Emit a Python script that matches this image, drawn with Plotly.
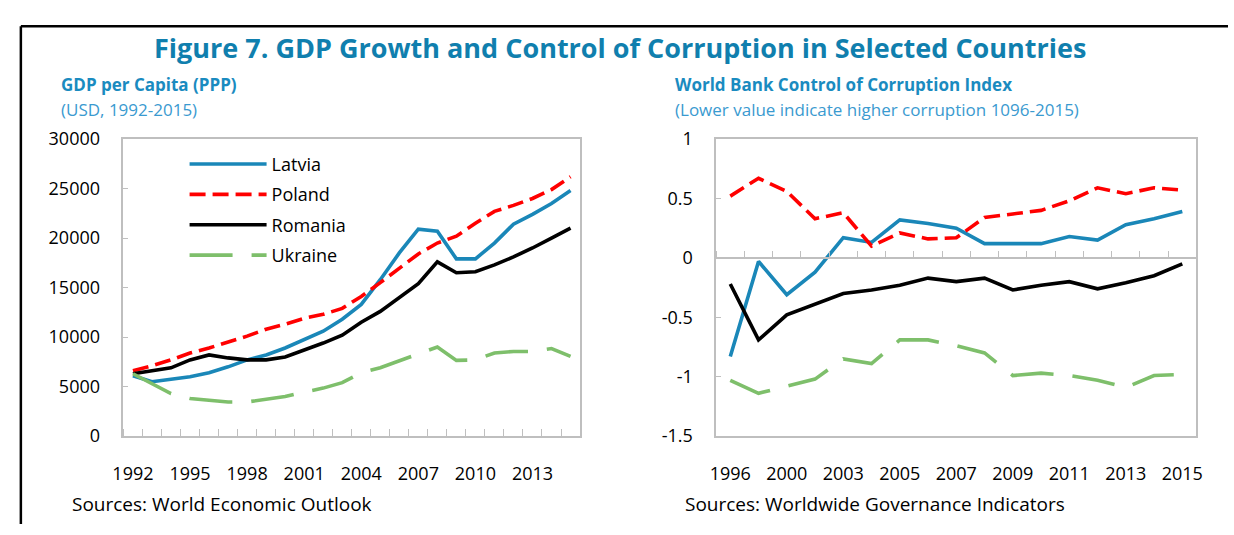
import plotly.graph_objects as go

# ---------------- data ----------------
gdp_years = list(range(1992, 2016))
gdp_latvia = [6100, 5500, 5750, 6000, 6400, 7000, 7700, 8200, 8900, 9800, 10600, 11800,
              13300, 15800, 18500, 20900, 20700, 17900, 17900, 19500, 21400, 22400, 23500, 24800]
gdp_poland = [6600, 7100, 7700, 8400, 8900, 9500, 10100, 10800, 11300, 11900, 12300, 12900,
              14100, 15500, 17000, 18400, 19500, 20200, 21500, 22700, 23300, 24000, 24900, 26200]
gdp_romania = [6300, 6600, 6900, 7700, 8200, 7900, 7700, 7700, 8000, 8700, 9400, 10200,
               11500, 12600, 14000, 15400, 17600, 16500, 16600, 17300, 18100, 19000, 20000, 21000]
gdp_ukraine = [6300, 5300, 4300, 3800, 3650, 3450, 3450, 3700, 4000, 4450, 4850, 5400,
               6400, 6900, 7600, 8250, 9000, 7650, 7700, 8400, 8550, 8550, 8850, 8050]

wgi_years = ["1996", "1998", "2000", "2002", "2003", "2004", "2005", "2006", "2007",
             "2008", "2009", "2010", "2011", "2012", "2013", "2014", "2015"]
wgi_latvia = [-0.83, -0.03, -0.31, -0.12, 0.17, 0.13, 0.32, 0.29, 0.25, 0.12, 0.12,
              0.12, 0.18, 0.15, 0.28, 0.33, 0.39]
wgi_poland = [0.52, 0.67, 0.56, 0.33, 0.38, 0.10, 0.21, 0.16, 0.17, 0.34, 0.37,
              0.40, 0.48, 0.59, 0.54, 0.59, 0.57]
wgi_romania = [-0.22, -0.69, -0.48, -0.39, -0.30, -0.27, -0.23, -0.17, -0.20, -0.17, -0.27,
               -0.23, -0.20, -0.26, -0.21, -0.15, -0.05]
wgi_ukraine = [-1.03, -1.14, -1.08, -1.02, -0.85, -0.89, -0.69, -0.69, -0.74, -0.80, -0.99,
               -0.97, -0.99, -1.03, -1.09, -0.99, -0.98]

countries = ["Latvia", "Poland", "Romania", "Ukraine"]
gdp_tick_years = [1992, 1995, 1998, 2001, 2004, 2007, 2010, 2013]
wgi_label_every = 2
gdp_yticks = [0, 5000, 10000, 15000, 20000, 25000, 30000]
wgi_yticks = [-1.5, -1.0, -0.5, 0.0, 0.5, 1.0]
wgi_yticktext = ["-1.5", "-1", "-0.5", "0", "0.5", "1"]

# ---------------- styles ----------------
W, H = 1234, 535
FONT = "Open Sans"
colors = {"Latvia": "#1A87B8", "Poland": "#FF0000", "Romania": "#000000", "Ukraine": "#7EBF6B"}
dashes = {"Latvia": "solid", "Poland": "16px,7px", "Romania": "solid", "Ukraine": "43px,19px"}
LW = 3.6
GRID = "#BFBFBF"
TITLE_BLUE = "#107FAE"
SUB_BLUE = "#1A8BC0"
SUB2_BLUE = "#3A9AD0"


def fx(px):
    return px / W


def fy(py):
    return 1 - py / H


# plot rectangles (px)
L_X0, L_X1, TOP, BOT = 114, 577, 132, 443
R_X0, R_X1 = 715, 1202

fig = go.Figure()

gdp_series = {"Latvia": gdp_latvia, "Poland": gdp_poland, "Romania": gdp_romania, "Ukraine": gdp_ukraine}
wgi_series = {"Latvia": wgi_latvia, "Poland": wgi_poland, "Romania": wgi_romania, "Ukraine": wgi_ukraine}

for c in countries:
    fig.add_trace(go.Scatter(
        x=gdp_years, y=gdp_series[c], name=c, mode="lines", legendgroup=c,
        line=dict(color=colors[c], width=LW, dash=dashes[c]),
        xaxis="x", yaxis="y", showlegend=True))

wgi_idx = list(range(len(wgi_years)))
for c in countries:
    fig.add_trace(go.Scatter(
        x=wgi_idx, y=wgi_series[c], name=c, mode="lines",
        line=dict(color=colors[c], width=LW, dash=dashes[c]),
        xaxis="x2", yaxis="y2", showlegend=False))

tickfont = dict(family=FONT, size=18, color="#000000")

ydom = [fy(BOT), fy(TOP)]
yr2 = [-1.5, 1.0]
zero_pos = ydom[0] + (0 - yr2[0]) / (yr2[1] - yr2[0]) * (ydom[1] - ydom[0])

fig.update_layout(
    width=W, height=H,
    margin=dict(l=0, r=0, t=0, b=0),
    paper_bgcolor="white", plot_bgcolor="white",
    font=dict(family=FONT, color="#000000"),
    showlegend=True,
    legend=dict(
        x=fx(176), y=fy(139), xanchor="left", yanchor="top",
        bgcolor="rgba(0,0,0,0)", borderwidth=0,
        font=dict(family=FONT, size=18, color="#000000"),
        itemwidth=77, tracegroupgap=4, traceorder="grouped",
    ),
    xaxis=dict(
        domain=[fx(L_X0), fx(L_X1)], range=[1991.5, 2015.5],
        tickmode="array", tickvals=gdp_tick_years, ticktext=[str(v) for v in gdp_tick_years],
        ticks="", showgrid=False, zeroline=False,
        showline=True, linecolor=GRID, linewidth=1.6, mirror=True,
        tickfont=tickfont, ticklabelstandoff=20,
        minor=dict(tickmode="linear", tick0=1991.5, dtick=1, ticks="inside",
                   ticklen=7, tickcolor=GRID, tickwidth=1.3, showgrid=False),
        anchor="y", fixedrange=True,
    ),
    yaxis=dict(
        domain=ydom, range=[0, 30000],
        tickmode="array", tickvals=gdp_yticks, ticktext=[str(v) for v in gdp_yticks],
        ticks="inside", ticklen=5, tickcolor=GRID, tickwidth=1.3,
        showgrid=False, zeroline=False,
        showline=True, linecolor=GRID, linewidth=1.6, mirror=True,
        tickfont=tickfont, ticklabelstandoff=18,
        anchor="x", fixedrange=True,
    ),
    xaxis2=dict(
        domain=[fx(R_X0), fx(R_X1)], range=[-0.5, len(wgi_years) - 0.5],
        tickmode="array", tickvals=wgi_idx[::wgi_label_every],
        ticktext=wgi_years[::wgi_label_every],
        ticks="", showgrid=False, zeroline=False,
        showline=True, linecolor=GRID, linewidth=1.6, mirror=True,
        tickfont=tickfont, ticklabelstandoff=20,
        anchor="y2", fixedrange=True,
    ),
    xaxis3=dict(
        domain=[fx(R_X0), fx(R_X1)], range=[-0.5, len(wgi_years) - 0.5],
        overlaying="x2", anchor="free", position=zero_pos, side="bottom",
        showticklabels=False, ticks="", showgrid=False, zeroline=False,
        showline=True, linecolor=GRID, linewidth=1.6,
        minor=dict(tickmode="linear", tick0=-0.5, dtick=1, ticks="inside",
                   ticklen=6, tickcolor=GRID, tickwidth=1.3, showgrid=False),
        fixedrange=True,
    ),
    yaxis2=dict(
        domain=ydom, range=yr2,
        tickmode="array", tickvals=wgi_yticks, ticktext=wgi_yticktext,
        ticks="inside", ticklen=5, tickcolor=GRID, tickwidth=1.3,
        showgrid=False, zeroline=False,
        showline=True, linecolor=GRID, linewidth=1.6, mirror=True,
        tickfont=tickfont, ticklabelstandoff=18,
        anchor="x2", fixedrange=True,
    ),
)

# dummy trace so xaxis3 is drawn
fig.add_trace(go.Scatter(x=[], y=[], xaxis="x3", yaxis="y2", showlegend=False, hoverinfo="skip"))

# texts
annots = [
    dict(text="<b>Figure 7. GDP Growth and Control of Corruption in Selected Countries</b>",
         x=fx(617), y=fy(36), xanchor="center", yanchor="middle",
         font=dict(family=FONT, size=27, color=TITLE_BLUE)),
    dict(text="<b>GDP per Capita (PPP)</b>", x=fx(49), y=fy(75), xanchor="left", yanchor="middle",
         font=dict(family=FONT, size=17, color=SUB_BLUE)),
    dict(text="(USD, 1992-2015)", x=fx(49), y=fy(101), xanchor="left", yanchor="middle",
         font=dict(family=FONT, size=17, color=SUB2_BLUE)),
    dict(text="<b>World Bank Control of Corruption Index</b>", x=fx(671), y=fy(75),
         xanchor="left", yanchor="middle", font=dict(family=FONT, size=17, color=SUB_BLUE)),
    dict(text="(Lower value indicate higher corruption 1096-2015)", x=fx(671), y=fy(101),
         xanchor="left", yanchor="middle", font=dict(family=FONT, size=17, color=SUB2_BLUE)),
    dict(text="Sources: World Economic Outlook", x=fx(60), y=fy(514), xanchor="left", yanchor="middle",
         font=dict(family=FONT, size=19, color="#000000")),
    dict(text="Sources: Worldwide Governance Indicators", x=fx(681), y=fy(514), xanchor="left",
         yanchor="middle", font=dict(family=FONT, size=19, color="#000000")),
]
for a in annots:
    fig.add_annotation(xref="paper", yref="paper", showarrow=False, **a)

# outer frame (left + top)
fig.add_shape(type="line", xref="paper", yref="paper", x0=fx(10), x1=fx(10), y0=0, y1=fy(14),
              line=dict(color="#000000", width=2.5))
fig.add_shape(type="line", xref="paper", yref="paper", x0=fx(10), x1=1, y0=fy(14), y1=fy(14),
              line=dict(color="#000000", width=2.5))

fig.write_html("out.html", config={"displayModeBar": False},
               post_script="document.body.style.margin='0';document.body.style.overflow='hidden';")
